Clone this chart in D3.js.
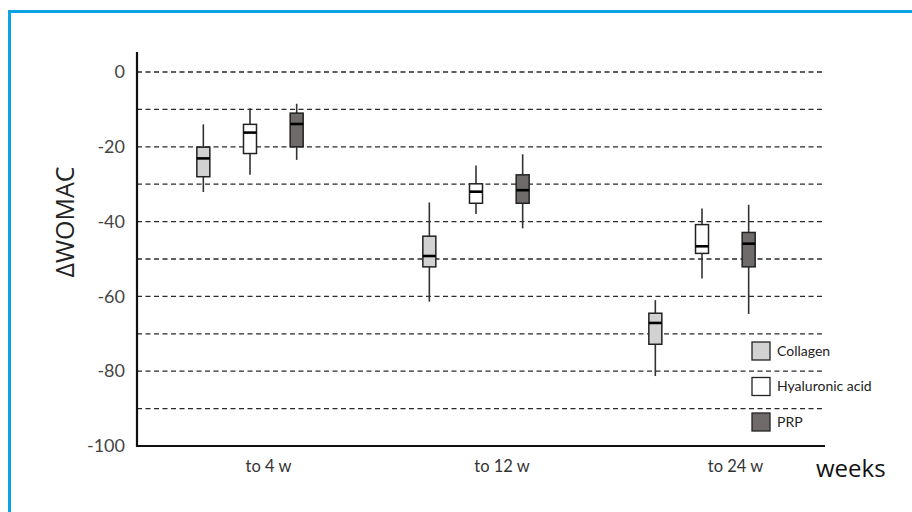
<!DOCTYPE html>
<html>
<head>
<meta charset="utf-8">
<script src="https://cdn.jsdelivr.net/npm/d3@7"></script>
<style>
  html, body { margin: 0; padding: 0; background: #fff; }
  svg { display: block; }
</style>
</head>
<body>
<svg id="chart" width="912" height="512"></svg>
<script>
// Time points and treatment groups
const categories = ["to 4 w", "to 12 w", "to 24 w"];
const series = ["Collagen", "Hyaluronic acid", "PRP"];
const seriesFill = ["#d2d2d2", "#ffffff", "#6f6b6b"];

// Box statistics per time point: [min, Q1, median, Q3, max]
const collagenStats = [
  [-32.1, -28.0, -23.1, -20.1, -14.0],
  [-61.4, -52.1, -49.2, -43.9, -34.9],
  [-81.3, -72.8, -67.1, -64.5, -61.0]
];
const hyaluronicStats = [
  [-27.5, -21.8, -16.2, -14.0, -9.7],
  [-38.0, -35.1, -32.0, -29.9, -25.0],
  [-55.2, -48.5, -46.6, -40.8, -36.5]
];
const prpStats = [
  [-23.5, -20.0, -13.9, -11.0, -8.5],
  [-41.8, -35.1, -31.6, -27.5, -22.0],
  [-64.7, -52.1, -45.9, -42.9, -35.5]
];

const yTicks = [0, -20, -40, -60, -80, -100];
const gridValues = [0, -10, -20, -30, -40, -50, -60, -70, -80, -90];

const statsBySeries = [collagenStats, hyaluronicStats, prpStats];
const boxes = [];
series.forEach((s, si) => {
  categories.forEach((c, ci) => {
    const [min, q1, med, q3, max] = statsBySeries[si][ci];
    boxes.push({ series: s, category: c, fill: seriesFill[si], min, q1, med, q3, max });
  });
});

const svg = d3.select("#chart");

// Outer frame
svg.append("rect")
  .attr("x", 9.5).attr("y", 11.5)
  .attr("width", 1000).attr("height", 1000)
  .attr("fill", "none")
  .attr("stroke", "#0aa3e3")
  .attr("stroke-width", 3);

const axisLeft = 137, axisRight = 825, axisBottom = 446, axisTop = 52;

const y = d3.scaleLinear().domain([-100, 0]).range([446, 72]);
const x = d3.scalePoint().domain(categories).range([250, 702]);
const xLabel = d3.scalePoint().domain(categories).range([268, 735]);
const inner = d3.scaleBand().domain(series).range([-70, 70]);
const boxW = 13;

// Dashed grid lines
svg.append("g")
  .selectAll("line")
  .data(gridValues)
  .join("line")
  .attr("x1", axisLeft).attr("x2", axisRight)
  .attr("y1", d => y(d)).attr("y2", d => y(d))
  .attr("stroke", "#2a2a2a")
  .attr("stroke-width", 1.3)
  .attr("stroke-dasharray", "5,3.5");

// Y axis
const yAxis = d3.axisLeft(y).tickValues(yTicks).tickFormat(d => String(d)).tickSize(0).tickPadding(12);
const gy = svg.append("g").attr("transform", `translate(${axisLeft},0)`).call(yAxis);
gy.select(".domain").remove();
gy.selectAll("text")
  .attr("font-family", "Lato, 'Open Sans', sans-serif")
  .attr("font-size", 18)
  .attr("fill", "#444");

svg.append("line")
  .attr("x1", axisLeft).attr("x2", axisLeft)
  .attr("y1", axisTop).attr("y2", axisBottom + 1)
  .attr("stroke", "#111").attr("stroke-width", 2.2);
svg.append("line")
  .attr("x1", axisLeft - 1).attr("x2", axisRight)
  .attr("y1", axisBottom).attr("y2", axisBottom)
  .attr("stroke", "#111").attr("stroke-width", 2.2);

// X category labels
const xAxis = d3.axisBottom(xLabel).tickSize(0).tickPadding(14);
const gx = svg.append("g").attr("transform", `translate(0,${axisBottom})`).call(xAxis);
gx.select(".domain").remove();
gx.selectAll("text")
  .attr("font-family", "Lato, 'Open Sans', sans-serif")
  .attr("font-size", 16.5)
  .attr("fill", "#333");

// Axis titles
svg.append("text")
  .attr("transform", `translate(74,222) rotate(-90)`)
  .attr("text-anchor", "middle")
  .attr("font-family", "'Open Sans', Lato, sans-serif")
  .attr("font-size", 25)
  .attr("fill", "#222")
  .text("ΔWOMAC");

svg.append("text")
  .attr("x", 816).attr("y", 477)
  .attr("font-family", "'Open Sans', Lato, sans-serif")
  .attr("font-size", 24)
  .attr("fill", "#111")
  .text("weeks");

// Box plots
const gBox = svg.append("g")
  .selectAll("g")
  .data(boxes)
  .join("g")
  .attr("transform", d => `translate(${x(d.category) + inner(d.series) + inner.bandwidth() / 2},0)`);

gBox.append("line")
  .attr("x1", 0).attr("x2", 0)
  .attr("y1", d => y(d.max)).attr("y2", d => y(d.min))
  .attr("stroke", "#333").attr("stroke-width", 1.6);

gBox.append("rect")
  .attr("x", -boxW / 2)
  .attr("y", d => y(d.q3))
  .attr("width", boxW)
  .attr("height", d => y(d.q1) - y(d.q3))
  .attr("fill", d => d.fill)
  .attr("stroke", "#222")
  .attr("stroke-width", 1.5);

gBox.append("line")
  .attr("x1", -boxW / 2).attr("x2", boxW / 2)
  .attr("y1", d => y(d.med)).attr("y2", d => y(d.med))
  .attr("stroke", "#000").attr("stroke-width", 2.6);

// Legend
const legend = svg.append("g")
  .selectAll("g")
  .data(series)
  .join("g")
  .attr("transform", (d, i) => `translate(752,${342 + i * 35.5})`);

legend.append("rect")
  .attr("x", 0).attr("y", 0)
  .attr("width", 18).attr("height", 18)
  .attr("fill", (d, i) => seriesFill[i])
  .attr("stroke", "#222")
  .attr("stroke-width", 1.3);

legend.append("text")
  .attr("x", 25).attr("y", 9)
  .attr("dy", "0.35em")
  .attr("font-family", "Lato, 'Open Sans', sans-serif")
  .attr("font-size", 14)
  .attr("fill", "#222")
  .text(d => d);
</script>
</body>
</html>
